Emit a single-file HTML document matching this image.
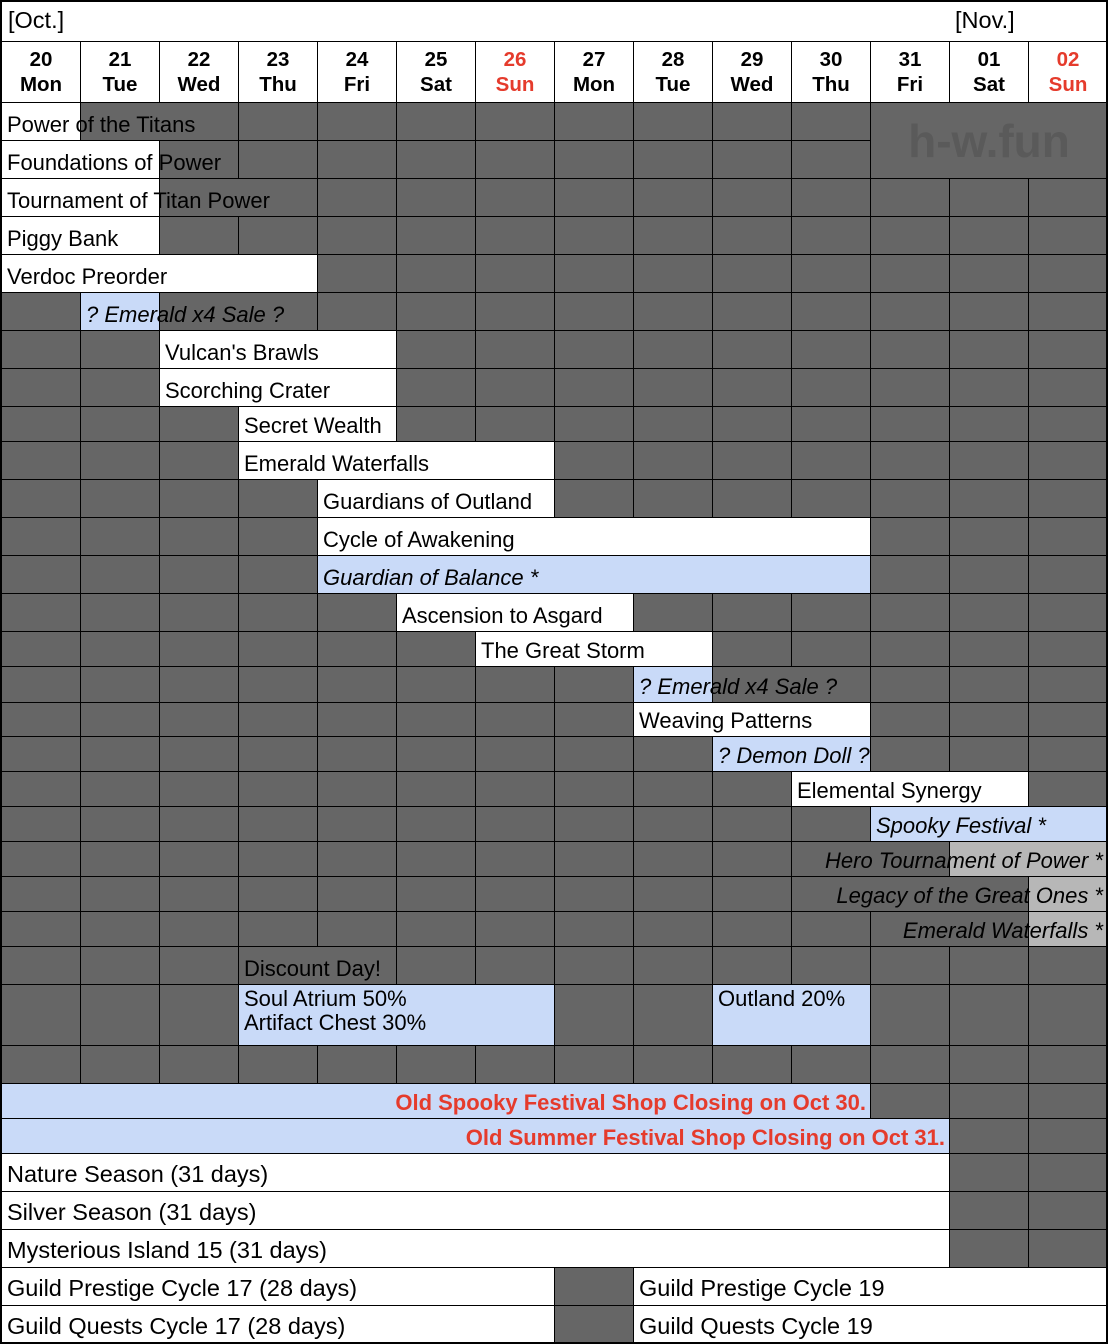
<!DOCTYPE html>
<html><head><meta charset="utf-8"><style>
body{margin:0;width:1108px;height:1344px;background:#fff;position:relative;font-family:"Liberation Sans",sans-serif;overflow:hidden}
.c{position:absolute;box-sizing:border-box;border:1px solid #000;font-size:22px;color:#000;white-space:nowrap;overflow:visible;display:flex;align-items:flex-end;padding:0 0 3px 6px;line-height:24px}
.d{background:#666}.w{background:#fff}.b{background:#c9daf8}.g{background:#b7b7b7}
.i{font-style:italic}
.r{justify-content:flex-end;padding-right:4px}
.red{color:#e53b2c;font-weight:bold;font-size:22px}
.hd{font-weight:bold;justify-content:center;align-items:center;text-align:center;padding:0;line-height:25px;font-size:20.5px}
.t{align-items:flex-start;padding-top:3px}
.big{font-size:23.5px;padding-bottom:5px}
</style></head><body>
<div id="root"></div>
<div class="c w" style="left:0;top:0;width:1108px;height:42px;border-width:2px 2px 1px 2px;padding-left:6px;align-items:center;font-size:23.5px">[Oct.]</div>
<div style="position:absolute;left:955px;top:7px;font-size:23.5px">[Nov.]</div>
<script>
var X=[1,80,159,238,317,396,475,554,633,712,791,870,949,1028,1107];
var Y=[102,140,178,216,254,292,330,368,406,441,479,517,555,593,631,666,702,736,771,806,841,876,911,946,984,1045,1083,1118,1153,1191,1229,1267,1305,1343];
var h='';
function cell(c0,c1,y0,y1,cls,txt,extra){
 h+='<div class="c '+cls+'" style="left:'+X[c0]+'px;top:'+y0+'px;width:'+(X[c1+1]-X[c0]+1)+'px;height:'+(y1-y0+1)+'px;'+(extra||'')+'">'+(txt||'')+'</div>';
}
var days=[['20','Mon'],['21','Tue'],['22','Wed'],['23','Thu'],['24','Fri'],['25','Sat'],['26','Sun'],['27','Mon'],['28','Tue'],['29','Wed'],['30','Thu'],['31','Fri'],['01','Sat'],['02','Sun']];
days.forEach(function(d,i){cell(i,i,41,102,'w hd',d[0]+'<br>'+d[1],(d[1]=='Sun'?'color:#e53b2c;':''));});
var R=[
 [[0,0,'w','Power of the Titans'],[1,2,'d','']],
 [[0,1,'w','Foundations of Power'],[2,2,'d','']],
 [[0,1,'w','Tournament of Titan Power'],[2,3,'d','']],
 [[0,1,'w','Piggy Bank']],
 [[0,3,'w','Verdoc Preorder']],
 [[1,1,'b i','? Emerald x4 Sale ?'],[2,3,'d','']],
 [[2,4,'w',"Vulcan's Brawls"]],
 [[2,4,'w','Scorching Crater']],
 [[3,4,'w','Secret Wealth']],
 [[3,6,'w','Emerald Waterfalls']],
 [[4,6,'w','Guardians of Outland']],
 [[4,10,'w','Cycle of Awakening']],
 [[4,10,'b i','Guardian of Balance *']],
 [[5,7,'w','Ascension to Asgard']],
 [[6,8,'w','The Great Storm']],
 [[8,8,'b i','? Emerald x4 Sale ?'],[9,10,'d','']],
 [[8,10,'w','Weaving Patterns']],
 [[9,10,'b i','? Demon Doll ?','overflow:hidden;']],
 [[10,12,'w','Elemental Synergy']],
 [[11,13,'b i','Spooky Festival *']],
 [[10,11,'d',''],[12,13,'g i r','<span style="position:absolute;right:4px;bottom:3px">Hero Tournament of Power *</span>']],
 [[10,12,'d',''],[13,13,'g i r','<span style="position:absolute;right:4px;bottom:3px">Legacy of the Great Ones *</span>']],
 [[11,12,'d',''],[13,13,'g i r','<span style="position:absolute;right:4px;bottom:3px">Emerald Waterfalls *</span>']],
 [[3,4,'d','Discount Day!']],
 [[3,6,'b t','Soul Atrium 50%<br>Artifact Chest 30%'],[9,10,'b t','Outland 20%']],
 [],
 [[0,10,'b r red','Old Spooky Festival Shop Closing on Oct 30.']],
 [[0,11,'b r red','Old Summer Festival Shop Closing on Oct 31.']],
 [[0,11,'w big','Nature Season (31 days)']],
 [[0,11,'w big','Silver Season (31 days)']],
 [[0,11,'w big','Mysterious Island 15 (31 days)']],
 [[0,6,'w big','Guild Prestige Cycle 17 (28 days)'],[8,13,'w big','Guild Prestige Cycle 19']],
 [[0,6,'w big','Guild Quests Cycle 17 (28 days)'],[8,13,'w big','Guild Quests Cycle 19']]
];
var over='';
R.forEach(function(segs,ri){
 var y0=Y[ri],y1=Y[ri+1];
 var covered=[];
 segs.forEach(function(s){for(var k=s[0];k<=s[1];k++)covered[k]=1;});
 for(var k=0;k<14;k++){
  if(covered[k])continue;
  if(ri<=1&&k>=11)continue;
  cell(k,k,y0,y1,'d','');
 }
 segs.forEach(function(s){cell(s[0],s[1],y0,y1,s[2],'',s[4]);});
 segs.forEach(function(s){
  if(!s[3])return;
  if(s[2].indexOf(' r')>=0 && s[2].indexOf('red')<0){
   over+='<div class="c i" style="border:none;left:'+X[s[0]]+'px;top:'+y0+'px;width:'+(X[s[1]+1]-X[s[0]])+'px;height:'+(y1-y0)+'px;background:none">'+s[3]+'</div>';
   return;
  }
  var cls=s[2].replace(/\b[dwbg]\b/g,'');
  var ex=s[4]?'width:'+(X[s[1]+1]-X[s[0]])+'px;overflow:hidden;':(s[2].indexOf(' r')>=0||s[2].indexOf(' t')>=0?'width:'+(X[s[1]+1]-X[s[0]])+'px;':'');
  over+='<div class="c '+cls+'" style="border:none;left:'+X[s[0]]+'px;top:'+y0+'px;height:'+(y1-y0)+'px;background:none;'+ex+'">'+s[3]+'</div>';
 });
});
h+='<div class="c d" style="left:870px;top:102px;width:238px;height:77px;justify-content:center;align-items:center;padding:0;font-size:46px;font-weight:bold;color:#5a5a5a">h-w.fun</div>';
h+='<div style="position:absolute;left:0;top:0;width:1108px;height:1344px;box-sizing:border-box;border:2px solid #000"></div>';
document.getElementById('root').innerHTML=h+over;
</script>
</body></html>
